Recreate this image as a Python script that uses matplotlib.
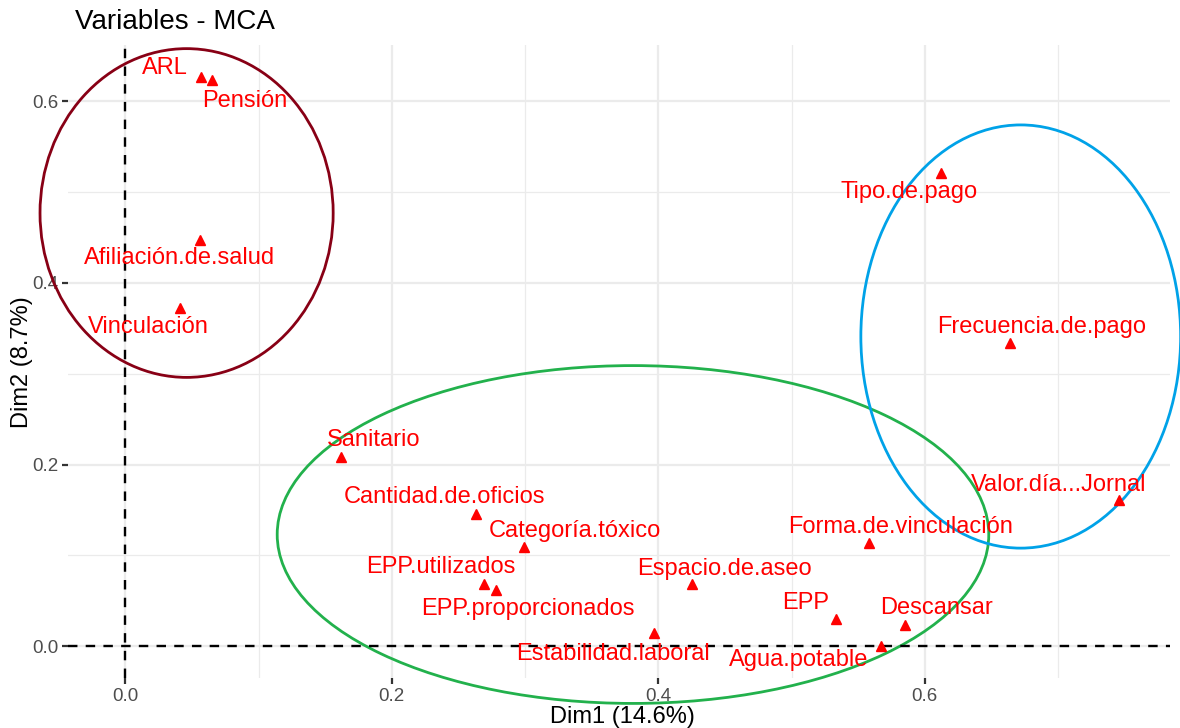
import numpy as np
import matplotlib
matplotlib.use("Agg")
import matplotlib.pyplot as plt
from matplotlib.patches import Ellipse

plt.rcParams["font.family"] = ["Liberation Sans", "DejaVu Sans"]

# MCA variable coordinates
variables = ["ARL", "Pensión", "Afiliación.de.salud", "Vinculación", "Tipo.de.pago",
             "Frecuencia.de.pago", "Valor.día...Jornal", "Sanitario", "Cantidad.de.oficios",
             "Categoría.tóxico", "EPP.utilizados", "EPP.proporcionados", "Estabilidad.laboral",
             "Espacio.de.aseo", "Forma.de.vinculación", "EPP", "Descansar", "Agua.potable"]
dim1 = [0.057, 0.065, 0.056, 0.041, 0.612, 0.664, 0.746, 0.162, 0.263,
        0.299, 0.269, 0.278, 0.397, 0.425, 0.558, 0.533, 0.585, 0.567]
dim2 = [0.627, 0.624, 0.447, 0.372, 0.521, 0.334, 0.161, 0.208, 0.146,
        0.109, 0.068, 0.062, 0.014, 0.068, 0.114, 0.030, 0.023, 0.000]

# hand-drawn group ellipses: center x, center y, width, height (data units)
group_colors = ["#880015", "#22B14C", "#00A2E8"]
group_cx = [0.046, 0.381, 0.672]
group_cy = [0.477, 0.123, 0.341]
group_w = [0.220, 0.534, 0.240]
group_h = [0.362, 0.372, 0.466]

# label offsets in pixels (repel-style placement)
offsets = [(-36, 9), (33, -21), (-20, -18), (-32, -19), (-32, -19), (32, 16), (-61, 15),
           (32, 17), (-31, 17), (51, 16), (-43, 17), (32, -19), (-41, -21), (33, 15),
           (32, 16), (-30, 16), (32, 17), (-82, -14)]

fig = plt.figure(figsize=(11.8, 7.28), dpi=100)
ax = fig.add_axes([68 / 1180, 50 / 728, 1102 / 1180, 633 / 728])
ax.set_xlim(-0.043, 0.784)
ax.set_ylim(-0.035, 0.662)

for s in ax.spines.values():
    s.set_visible(False)
ax.set_xticks([0.0, 0.2, 0.4, 0.6])
ax.set_yticks([0.0, 0.2, 0.4, 0.6])
ax.set_xticks([0.1, 0.3, 0.5, 0.7], minor=True)
ax.set_yticks([0.1, 0.3, 0.5], minor=True)
ax.grid(which="major", color="#EBEBEB", lw=1.6)
ax.grid(which="minor", color="#EBEBEB", lw=0.9)
ax.set_axisbelow(True)
ax.tick_params(which="major", length=4, width=1.6, color="#333333",
               labelsize=13.5, labelcolor="#4D4D4D", pad=3)
ax.tick_params(which="minor", length=0)

ax.axhline(0, color="black", lw=1.7, ls=(0, (4, 3.5)))
ax.axvline(0, color="black", lw=1.7, ls=(0, (4, 3.5)))

ax.plot(dim1, dim2, ls="none", marker="^", ms=7.5, color="red")
for name, x, y, (dx, dy) in zip(variables, dim1, dim2, offsets):
    ax.annotate(name, (x, y), xytext=(dx, dy), textcoords="offset pixels",
                ha="center", va="center", color="red", fontsize=17)

for c, cx, cy, w, h in zip(group_colors, group_cx, group_cy, group_w, group_h):
    ax.add_patch(Ellipse((cx, cy), w, h, fill=False, ec=c, lw=2, clip_on=False))

fig.text(622 / 1180, 1 - 717 / 728, "Dim1 (14.6%)", fontsize=17, ha="center", va="center")
fig.text(22 / 1180, 1 - 362 / 728, "Dim2 (8.7%)", fontsize=17, ha="center", va="center",
         rotation=90)
fig.text(75 / 1180, 1 - 22 / 728, "Variables - MCA", fontsize=20, va="center", ha="left")

fig.savefig("out.png", dpi=100)
